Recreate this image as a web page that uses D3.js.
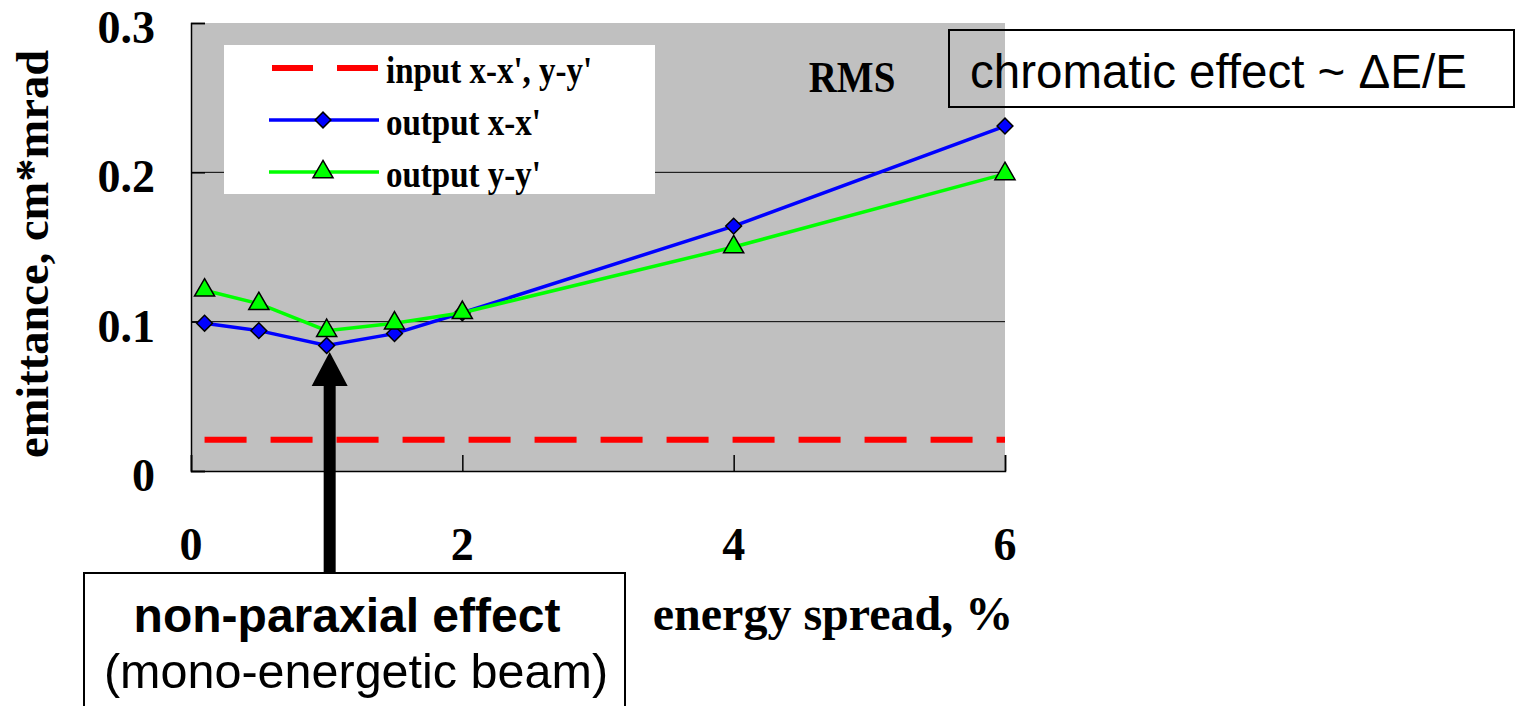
<!DOCTYPE html>
<html lang="en">
  <head>
    <meta charset="UTF-8" />
    <title>Emittance vs energy spread</title>
    <script src="https://d3js.org/d3.v7.min.js"></script>
    <style>
      body { margin: 0; background: #fff; }
      svg { display: block; }
      .serif { font-family: "Liberation Serif", "Times New Roman", serif; font-weight: bold; }
      .sans { font-family: "Liberation Sans", Arial, sans-serif; }
    </style>
  </head>
  <body>
    <svg id="chart"></svg>
  </body>
  <script>
    // energy spread, %
    const spread = [0.1, 0.5, 1, 1.5, 2, 4, 6];
    // emittance, cm*mrad
    const inputXY = [0.021, 0.021, 0.021, 0.021, 0.021, 0.021, 0.021];
    const outputX = [0.099, 0.094, 0.084, 0.092, 0.106, 0.164, 0.231];
    const outputY = [0.121, 0.112, 0.094, 0.099, 0.106, 0.150, 0.199];
    const xTicks = [0, 2, 4, 6];
    const yTicks = [0, 0.1, 0.2, 0.3];
    const legendLabels = ["input x-x', y-y'", "output x-x'", "output y-y'"];

    const width = 1518, height = 706;
    const svg = d3.select("#chart").attr("width", width).attr("height", height);

    const x = d3.scaleLinear().domain([0, 6]).range([191, 1005]);
    const y = d3.scaleLinear().domain([0, 0.3]).range([471, 23]);

    // plot background
    svg.append("rect")
      .attr("x", x(0)).attr("y", y(0.3))
      .attr("width", x(6) - x(0)).attr("height", y(0) - y(0.3))
      .attr("fill", "#c0c0c0");

    // gridlines
    svg.append("g").selectAll("line")
      .data(yTicks.filter((d) => d > 0 && d < 0.3))
      .join("line")
      .attr("x1", x(0)).attr("x2", x(6))
      .attr("y1", (d) => y(d)).attr("y2", (d) => y(d))
      .attr("stroke", "#000").attr("stroke-width", 1);

    // axes
    const yAxis = svg.append("g")
      .attr("transform", `translate(${x(0)},0)`)
      .call(d3.axisRight(y).tickValues(yTicks).tickSize(14).tickFormat(""));
    const xAxis = svg.append("g")
      .attr("transform", `translate(0,${y(0)})`)
      .call(d3.axisTop(x).tickValues(xTicks).tickSize(16).tickFormat(""));
    [yAxis, xAxis].forEach((a) => {
      a.select(".domain").attr("stroke", "#000").attr("stroke-width", 1.5);
      a.selectAll(".tick line").attr("stroke", "#000").attr("stroke-width", 1.5);
    });

    // tick labels
    svg.append("g").selectAll("text")
      .data(yTicks).join("text")
      .attr("class", "serif")
      .attr("x", 155).attr("y", (d) => y(d) + 20)
      .attr("text-anchor", "end").attr("font-size", 46)
      .text((d) => (d === 0 ? "0" : d3.format(".1f")(d)));
    svg.append("g").selectAll("text")
      .data(xTicks).join("text")
      .attr("class", "serif")
      .attr("x", (d) => x(d)).attr("y", 560)
      .attr("text-anchor", "middle").attr("font-size", 46)
      .text((d) => d);

    // axis titles
    svg.append("text")
      .attr("class", "serif")
      .attr("transform", "translate(48,254) rotate(-90)")
      .attr("text-anchor", "middle").attr("font-size", 46.5)
      .text("emittance, cm*mrad");
    svg.append("text")
      .attr("class", "serif")
      .attr("x", 833).attr("y", 630)
      .attr("text-anchor", "middle").attr("font-size", 48)
      .text("energy spread, %");

    // series
    const rows = (vals) => spread.map((s, i) => ({ s, v: vals[i] }));
    const line = d3.line().x((d) => x(d.s)).y((d) => y(d.v));

    svg.append("path")
      .datum(rows(inputXY))
      .attr("d", line)
      .attr("fill", "none").attr("stroke", "#ff0000")
      .attr("stroke-width", 6).attr("stroke-dasharray", "42 24");

    const diamond = d3.symbol().type(d3.symbolSquare).size(125);
    const triangle = d3.symbol().type(d3.symbolTriangle).size(175);

    svg.append("path")
      .datum(rows(outputX))
      .attr("d", line)
      .attr("fill", "none").attr("stroke", "#0000ff").attr("stroke-width", 3.5);
    svg.append("g").selectAll("path")
      .data(rows(outputX)).join("path")
      .attr("d", diamond)
      .attr("transform", (d) => `translate(${x(d.s)},${y(d.v)}) rotate(45)`)
      .attr("fill", "#0000ff").attr("stroke", "#000").attr("stroke-width", 1.5);

    svg.append("path")
      .datum(rows(outputY))
      .attr("d", line)
      .attr("fill", "none").attr("stroke", "#00ff00").attr("stroke-width", 3.5);
    svg.append("g").selectAll("path")
      .data(rows(outputY)).join("path")
      .attr("d", triangle)
      .attr("transform", (d) => `translate(${x(d.s)},${y(d.v)})`)
      .attr("fill", "#00ff00").attr("stroke", "#000").attr("stroke-width", 1.5);

    // legend
    const legend = svg.append("g");
    legend.append("rect")
      .attr("x", 224).attr("y", 45).attr("width", 431).attr("height", 149)
      .attr("fill", "#fff");
    const rowY = [68, 120, 172];
    legend.append("line")
      .attr("x1", 272).attr("x2", 379).attr("y1", rowY[0]).attr("y2", rowY[0])
      .attr("stroke", "#ff0000").attr("stroke-width", 6).attr("stroke-dasharray", "41 24");
    legend.append("line")
      .attr("x1", 269).attr("x2", 379).attr("y1", rowY[1]).attr("y2", rowY[1])
      .attr("stroke", "#0000ff").attr("stroke-width", 3.5);
    legend.append("path")
      .attr("d", diamond)
      .attr("transform", `translate(323,${rowY[1]}) rotate(45)`)
      .attr("fill", "#0000ff").attr("stroke", "#000").attr("stroke-width", 1.5);
    legend.append("line")
      .attr("x1", 269).attr("x2", 379).attr("y1", rowY[2]).attr("y2", rowY[2])
      .attr("stroke", "#00ff00").attr("stroke-width", 3.5);
    legend.append("path")
      .attr("d", triangle)
      .attr("transform", `translate(323,${rowY[2]})`)
      .attr("fill", "#00ff00").attr("stroke", "#000").attr("stroke-width", 1.5);
    legend.selectAll("text.lab")
      .data(legendLabels).join("text")
      .attr("class", "serif lab")
      .attr("transform", (d, i) => `translate(386,${rowY[i] + 15}) scale(1,1.15)`)
      .attr("font-size", 33)
      .text((d) => d);

    svg.append("text")
      .attr("class", "serif")
      .attr("transform", "translate(852,92) scale(1,1.12)")
      .attr("text-anchor", "middle").attr("font-size", 39)
      .text("RMS");

    // chromatic annotation
    svg.append("rect")
      .attr("x", 949).attr("y", 30).attr("width", 565).attr("height", 77)
      .attr("fill", "none").attr("stroke", "#000").attr("stroke-width", 2);
    svg.append("text")
      .attr("class", "sans")
      .attr("x", 970).attr("y", 88)
      .attr("font-size", 47.5)
      .text("chromatic effect ~ \u0394E/E");

    // non-paraxial annotation with arrow
    const ax = x(1) + 3;
    svg.append("rect")
      .attr("x", ax - 6).attr("y", 385).attr("width", 12).attr("height", 190)
      .attr("fill", "#000");
    svg.append("path")
      .attr("d", `M${ax},352 L${ax + 18},386 L${ax - 18},386 Z`)
      .attr("fill", "#000");
    svg.append("rect")
      .attr("x", 84).attr("y", 573).attr("width", 541).attr("height", 160)
      .attr("fill", "#fff").attr("stroke", "#000").attr("stroke-width", 2);
    svg.append("text")
      .attr("class", "sans")
      .attr("x", 347).attr("y", 632)
      .attr("text-anchor", "middle").attr("font-size", 48).attr("font-weight", "bold")
      .text("non-paraxial effect");
    svg.append("text")
      .attr("class", "sans")
      .attr("x", 356).attr("y", 688)
      .attr("text-anchor", "middle").attr("font-size", 48.5)
      .text("(mono-energetic beam)");
  </script>
</html>
